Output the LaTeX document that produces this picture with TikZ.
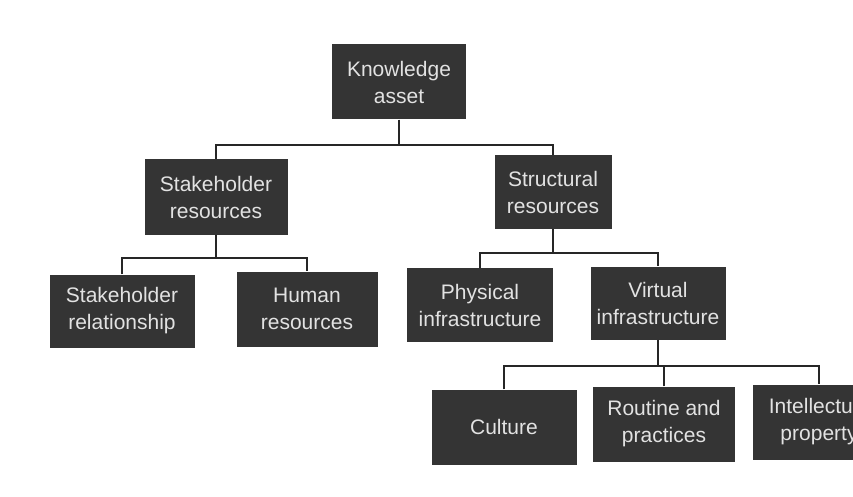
\documentclass[tikz,border=0pt]{standalone}
\usepackage{fontspec}
\setmainfont{Liberation Sans}
\definecolor{boxfill}{HTML}{343434}
\definecolor{boxtext}{HTML}{E2E2E2}
\tikzset{
  kbox/.style={draw=none, fill=boxfill, text=boxtext, align=center, inner sep=0pt,
    font=\fontsize{21}{27}\selectfont},
  link/.style={draw=black!85, line width=1.3pt}
}
\begin{document}
\begin{tikzpicture}[x=1pt,y=-1pt]
\useasboundingbox (0,0) rectangle (853,497);
\fill[white] (0,0) rectangle (853,497);
\clip (0,0) rectangle (853,497);
\node[kbox, minimum width=134, minimum height=75] (ka) at (399,82) {Knowledge\\asset};
\node[kbox, minimum width=143, minimum height=76] (sr) at (216,197) {Stakeholder\\resources};
\node[kbox, minimum width=117, minimum height=74] (st) at (553,192) {Structural\\resources};
\node[kbox, minimum width=145, minimum height=73] (shr) at (122,311) {Stakeholder\\relationship};
\node[kbox, minimum width=141, minimum height=75] (hr) at (307,309) {Human\\resources};
\node[kbox, minimum width=146, minimum height=74] (pi) at (480,305) {Physical\\infrastructure};
\node[kbox, minimum width=135, minimum height=73] (vi) at (658,303) {Virtual\\infrastructure};
\node[kbox, minimum width=145, minimum height=75] (cu) at (504,427) {Culture};
\node[kbox, minimum width=142, minimum height=75] (rp) at (664,424) {Routine and\\practices};
\node[kbox, minimum width=132, minimum height=75] (ip) at (819,422) {Intellectual\\property};
% connectors
\coordinate (b1) at (399,145);
\coordinate (b2) at (216,258);
\coordinate (b3) at (553,253);
\coordinate (b4) at (658,366);
\draw[link] (ka.south) -- (b1);
\draw[link] (sr.north) |- (b1) -| (st.north);
\draw[link] (sr.south) -- (b2);
\draw[link] (shr.north) |- (b2) -| (hr.north);
\draw[link] (st.south) -- (b3);
\draw[link] (pi.north) |- (b3) -| (vi.north);
\draw[link] (vi.south) -- (b4);
\draw[link] (cu.north) |- (b4) -| (ip.north);
\draw[link] (rp.north) -- (rp.north |- b4);
\end{tikzpicture}
\end{document}
